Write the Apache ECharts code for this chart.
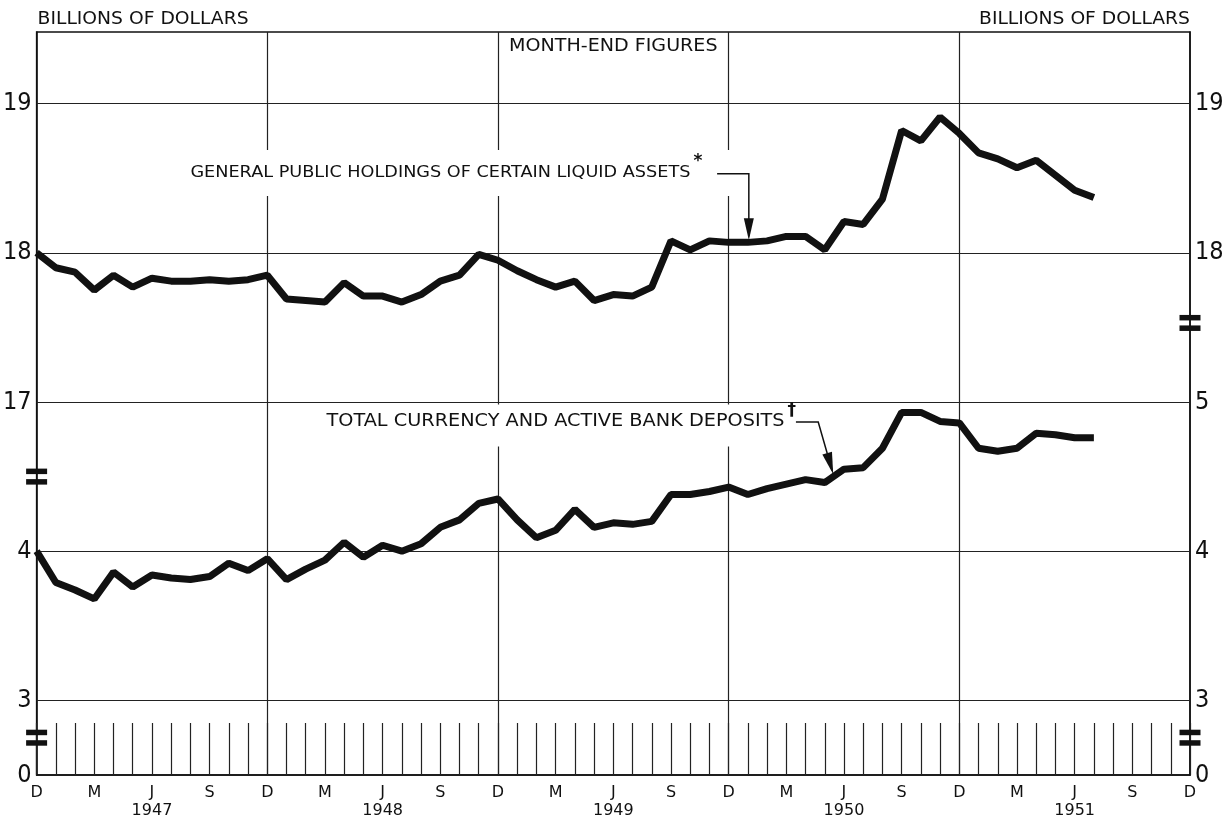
<!DOCTYPE html>
<html><head><meta charset="utf-8">
<script src="https://cdn.jsdelivr.net/npm/echarts@6/dist/echarts.min.js"></script>
<style>html,body{margin:0;padding:0;background:#fff}#c{width:1227px;height:820px}</style>
</head><body><div id="c"></div>
<script>
// ---- data (month-end, Dec 1946 .. Jul 1951), billions of dollars ----
const liquidAssets = [
  18.00, 17.90, 17.87, 17.75, 17.85, 17.77, 17.83, 17.81, 17.81, 17.82, 17.81, 17.82,
  17.85, 17.69, 17.68, 17.67, 17.80, 17.71, 17.71, 17.67, 17.72, 17.81, 17.85, 17.99,
  17.95, 17.88, 17.82, 17.77, 17.81, 17.68, 17.72, 17.71, 17.77, 18.08, 18.02, 18.08,
  18.07, 18.07, 18.08, 18.11, 18.11, 18.02, 18.21, 18.19, 18.36, 18.82, 18.75, 18.91,
  18.80, 18.67, 18.63, 18.57, 18.62, 18.52, 18.42, 18.37
];
const currencyDeposits = [
  4.00, 3.79, 3.74, 3.68, 3.86, 3.76, 3.84, 3.82, 3.81, 3.83, 3.92, 3.87,
  3.95, 3.81, 3.88, 3.94, 4.06, 3.96, 4.04, 4.00, 4.05, 4.16, 4.21, 4.32,
  4.35, 4.21, 4.09, 4.14, 4.28, 4.16, 4.19, 4.18, 4.20, 4.38, 4.38, 4.40,
  4.43, 4.38, 4.42, 4.45, 4.48, 4.46, 4.55, 4.56, 4.69, 4.93, 4.93, 4.87,
  4.86, 4.69, 4.67, 4.69, 4.79, 4.78, 4.76, 4.76
];
const quarterLabels = ['D', 'M', 'J', 'S'];
const yearLabels = ['1947', '1948', '1949', '1950', '1951'];
const leftLowerTicks = [0, 3, 4];
const leftUpperTicks = [17, 18, 19];
const rightLowerTicks = [0, 3, 4, 5];
const rightUpperTicks = [18, 19];
const upperGridValues = [18, 19];
const lowerGridValues = [3, 4, 5];
const yearBoundaryMonths = [12, 24, 36, 48];
const axisTitle = 'BILLIONS OF DOLLARS';
const noteText = 'MONTH-END FIGURES';
const liquidLabel = 'GENERAL PUBLIC HOLDINGS OF CERTAIN LIQUID ASSETS';
const currencyLabel = 'TOTAL CURRENCY AND ACTIVE BANK DEPOSITS';

// ---- broken scale: one display axis, two value bands ----
const lowerDisp = v => (v === 0 ? 0 : v - 2.5);
const upperDisp = v => v - 14.5;
const TOTAL_MONTHS = 60;
const DMAX = 4.98;

const FONT = 'DejaVu Sans';
const NUMFONT = '"DejaVu Sans Condensed", "Liberation Sans Narrow", "Liberation Sans", sans-serif';
const INK = '#111';

const key = d => d.toFixed(2);
const leftMap = {}, rightMap = {};
leftLowerTicks.forEach(v => leftMap[key(lowerDisp(v))] = String(v));
leftUpperTicks.forEach(v => leftMap[key(upperDisp(v))] = String(v));
rightLowerTicks.forEach(v => rightMap[key(lowerDisp(v))] = String(v));
rightUpperTicks.forEach(v => rightMap[key(upperDisp(v))] = String(v));
const leftVals = leftLowerTicks.map(lowerDisp).concat(leftUpperTicks.map(upperDisp));
const rightVals = rightLowerTicks.map(lowerDisp).concat(rightUpperTicks.map(upperDisp));

const quarterVals = [];
for (let m = 0; m <= TOTAL_MONTHS; m += 3) quarterVals.push(m);

const gridMarks = []
  .concat(lowerGridValues.map(v => ({ yAxis: lowerDisp(v) })))
  .concat(upperGridValues.map(v => ({ yAxis: upperDisp(v) })))
  .concat(yearBoundaryMonths.map(m => ({ xAxis: m })));

const chart = echarts.init(document.getElementById('c'), null, { renderer: 'canvas' });

const yAxisBase = (pos, vals, map) => ({
  type: 'value', position: pos, min: 0, max: DMAX,
  axisLine: { show: true, onZero: false, lineStyle: { color: INK, width: 1.5 } },
  axisTick: { show: false },
  splitLine: { show: false },
  axisLabel: {
    customValues: vals,
    formatter: v => map[key(v)] || '',
    fontFamily: NUMFONT, fontSize: 25, color: INK, margin: 5
  }
});

chart.setOption({
  animation: false,
  backgroundColor: '#fff',
  grid: { left: 36, right: 37, top: 32, bottom: 44, show: true, borderColor: INK, borderWidth: 1.5 },
  xAxis: {
    type: 'value', min: 0, max: TOTAL_MONTHS, interval: 1,
    axisLine: { show: true, lineStyle: { color: INK, width: 1.5 } },
    axisTick: { show: true, inside: true, length: 52, lineStyle: { color: '#222', width: 1.2 } },
    splitLine: { show: false },
    axisLabel: {
      customValues: quarterVals,
      formatter: v => {
        const m = Math.round(v), q = m % 12;
        let s = quarterLabels[q / 3];
        if (q === 6) s += '\n' + yearLabels[Math.floor(m / 12)];
        return s;
      },
      fontFamily: FONT, fontSize: 16, lineHeight: 18, color: INK, margin: 9
    }
  },
  yAxis: [yAxisBase('left', leftVals, leftMap), yAxisBase('right', rightVals, rightMap)],
  series: [
    {
      name: liquidLabel, type: 'line', yAxisIndex: 0, symbol: 'none', z: 3,
      lineStyle: { color: INK, width: 7 },
      data: liquidAssets.map((v, i) => [i, upperDisp(v)]),
      markLine: {
        silent: true, symbol: ['none', 'none'], z: 1, label: { show: false },
        lineStyle: { color: '#222', width: 1.2, type: 'solid' },
        data: gridMarks
      }
    },
    {
      name: currencyLabel, type: 'line', yAxisIndex: 0, symbol: 'none', z: 3,
      lineStyle: { color: INK, width: 7 },
      data: currencyDeposits.map((v, i) => [i, lowerDisp(v)])
    }
  ]
});

// ---- annotations, positioned through the chart's own coordinate system ----
const P = (m, d) => chart.convertToPixel({ gridIndex: 0 }, [m, d]);
const mctx = document.createElement('canvas').getContext('2d');
const measure = (t, size, fam) => { mctx.font = size + 'px "' + fam + '"'; return mctx.measureText(t).width; };

const g = [];
const SX = 1.07;

// axis titles
{
  const [xl, yt] = P(0, DMAX);
  const [xr] = P(TOTAL_MONTHS, DMAX);
  g.push({ type: 'text', x: xl + 1, y: yt - 13, scaleX: SX, z: 50, style: { text: axisTitle, fontFamily: FONT, fontSize: 17.5, fill: INK, align: 'left', verticalAlign: 'middle' } });
  g.push({ type: 'text', x: xr, y: yt - 13, scaleX: SX, z: 50, style: { text: axisTitle, fontFamily: FONT, fontSize: 17.5, fill: INK, align: 'right', verticalAlign: 'middle' } });
}
// top note
{
  const [x, y] = P(30, upperDisp(19.38));
  g.push({ type: 'text', x, y, scaleX: 1.09, z: 50, style: { text: noteText, fontFamily: FONT, fontSize: 17.5, fill: INK, align: 'center', verticalAlign: 'middle' } });
}

function labelWithMark(text, mark, m, d, fs, pad) {
  const [xl, yc] = P(m, d);
  const top = yc - fs / 2 - pad[0];
  g.push({ type: 'text', x: xl - pad[3] * SX, y: top, scaleX: SX, z: 50, style: {
    text, fontFamily: FONT, fontSize: fs, fill: INK, align: 'left', verticalAlign: 'top',
    backgroundColor: '#fff', padding: pad } });
  const w = measure(text, fs, FONT) * SX;
  g.push({ type: 'text', x: xl + w + 3, y: yc - 11, z: 51, style: {
    text: mark, fontFamily: FONT, fontSize: 17, fontWeight: 'bold', fill: INK, align: 'left', verticalAlign: 'middle' } });
}

function leader(pts) {
  const px = pts.map(p => P(p[0], p[1]));
  const tip = px[px.length - 1], prev = px[px.length - 2];
  const dx = tip[0] - prev[0], dy = tip[1] - prev[1], L = Math.hypot(dx, dy);
  const ux = dx / L, uy = dy / L, len = 22, hw = 5;
  const base = [tip[0] - ux * len, tip[1] - uy * len];
  const line = px.slice(0, -1).concat([[tip[0] - ux * 4, tip[1] - uy * 4]]);
  g.push({ type: 'polyline', z: 52, shape: { points: line }, style: { stroke: INK, lineWidth: 1.5, fill: null } });
  g.push({ type: 'polygon', z: 52, shape: { points: [tip, [base[0] - uy * hw, base[1] + ux * hw], [base[0] + uy * hw, base[1] - ux * hw]] }, style: { fill: INK } });
}

labelWithMark(liquidLabel, '*', 8.0, upperDisp(18.54), 16.5, [14, 50, 15, 8]);
leader([[35.4, upperDisp(18.53)], [37.05, upperDisp(18.53)], [37.05, upperDisp(18.085)]]);

labelWithMark(currencyLabel, '\u2020', 15.08, lowerDisp(4.87), 18, [8, 8, 16, 8]);
leader([[39.5, lowerDisp(4.866)], [40.66, lowerDisp(4.866)], [41.44, lowerDisp(4.515)]]);

// scale-break marks on the axes
[[0, 2.0], [0, 0.25], [TOTAL_MONTHS, 3.03], [TOTAL_MONTHS, 0.25]].forEach(([m, d]) => {
  const [x, y] = P(m, d);
  g.push({ type: 'rect', z: 60, shape: { x: x - 10.5, y: y - 8, width: 21, height: 5.5 }, style: { fill: INK } });
  g.push({ type: 'rect', z: 60, shape: { x: x - 10.5, y: y + 2.5, width: 21, height: 5.5 }, style: { fill: INK } });
});

chart.setOption({ graphic: { elements: g } });
</script>
</body></html>
